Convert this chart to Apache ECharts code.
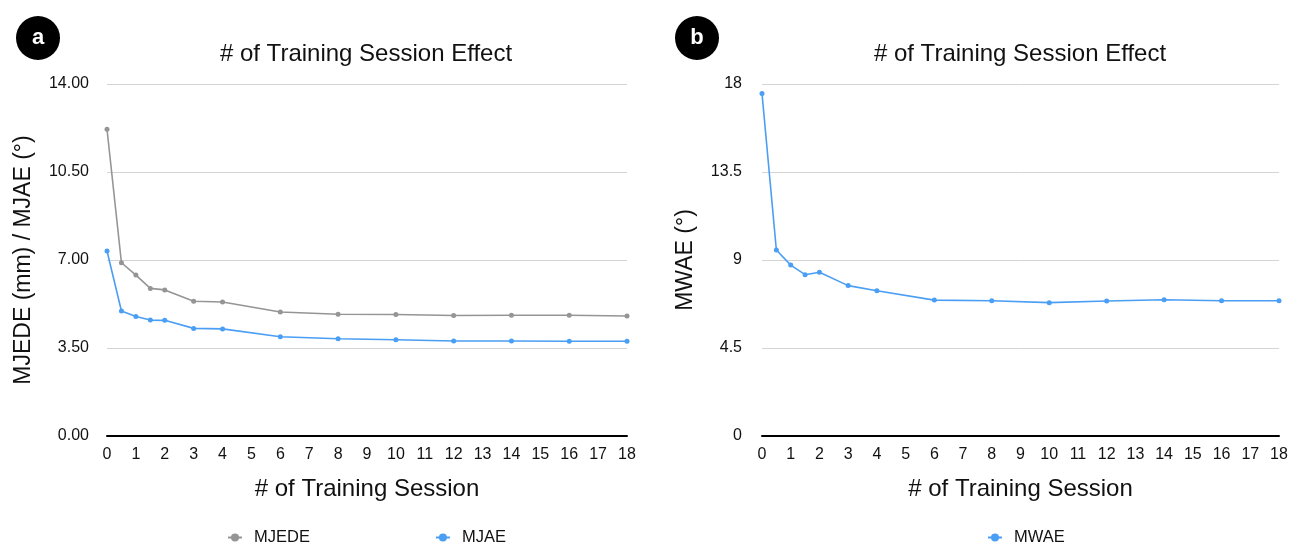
<!DOCTYPE html>
<html>
<head>
<meta charset="utf-8">
<script src="https://cdn.jsdelivr.net/npm/echarts@6/dist/echarts.min.js"></script>
<style>
  html, body { margin: 0; padding: 0; background: #fff; }
  #chart { width: 1297px; height: 550px; }
</style>
</head>
<body>
<div id="chart"></div>
<script>
// training sessions (x values)
const sessions = [0, 0.5, 1, 1.5, 2, 3, 4, 6, 8, 10, 12, 14, 16, 18];
// panel a
const mjede = [12.2, 6.89, 6.40, 5.87, 5.81, 5.36, 5.33, 4.93, 4.84, 4.83, 4.79, 4.80, 4.80, 4.77];
const mjae = [7.36, 4.97, 4.75, 4.61, 4.60, 4.28, 4.26, 3.95, 3.87, 3.83, 3.78, 3.78, 3.77, 3.77];
// panel b
const mwae = [17.52, 9.51, 8.74, 8.25, 8.37, 7.69, 7.43, 6.95, 6.92, 6.82, 6.90, 6.97, 6.92, 6.92];

const grey = "#959595";
const blue = "#4a9ef4";
const font = "'Liberation Sans', Arial, sans-serif";

const pairs = (ys) => sessions.map((x, i) => [x, ys[i]]);

const chart = echarts.init(document.getElementById("chart"));

const xAxisBase = (grid) => ({
  type: "value",
  gridIndex: grid,
  min: 0,
  max: 18,
  interval: 1,
  name: "# of Training Session",
  nameLocation: "middle",
  nameGap: 41,
  nameTextStyle: { fontSize: 24, color: "#111", fontFamily: font },
  axisLine: { show: true, lineStyle: { color: "#000", width: 2 } },
  axisTick: { show: false },
  splitLine: { show: false },
  axisLabel: { fontSize: 16, color: "#111", fontFamily: font, margin: 11 }
});

const yAxisBase = (grid, max, step, name, gap, margin, fmt) => ({
  type: "value",
  gridIndex: grid,
  min: 0,
  max: max,
  interval: step,
  name: name,
  nameLocation: "middle",
  nameGap: gap,
  nameTextStyle: { fontSize: 23, color: "#111", fontFamily: font },
  axisLine: { show: false },
  axisTick: { show: false },
  splitLine: { lineStyle: { color: "#d4d4d4", width: 1 } },
  axisLabel: { fontSize: 16, color: "#111", fontFamily: font, margin: margin, formatter: fmt }
});

const lineSeries = (name, ys, color, xi, yi) => ({
  name: name,
  type: "line",
  xAxisIndex: xi,
  yAxisIndex: yi,
  data: pairs(ys),
  symbol: "circle",
  symbolSize: 5,
  lineStyle: { color: color, width: 1.6 },
  itemStyle: { color: color },
  animation: false
});

const legendText = { fontSize: 16.5, color: "#111", fontFamily: font, padding: [0, 0, 0, 7] };

const option = {
  backgroundColor: "#fff",
  title: [
    { text: "# of Training Session Effect", left: 361, top: 37, textAlign: "center",
      textStyle: { fontSize: 24, fontWeight: "normal", color: "#111", fontFamily: font } },
    { text: "# of Training Session Effect", left: 1015, top: 37, textAlign: "center",
      textStyle: { fontSize: 24, fontWeight: "normal", color: "#111", fontFamily: font } }
  ],
  legend: [
    { data: ["MJEDE", "MJAE"], left: 222, top: 524, itemGap: 125, itemWidth: 14, itemHeight: 10,
      textStyle: legendText },
    { data: ["MWAE"], left: 982, top: 524, itemWidth: 14, itemHeight: 10,
      textStyle: legendText }
  ],
  grid: [
    { left: 107, right: 670, top: 84, bottom: 114 },
    { left: 762, right: 18, top: 84, bottom: 114 }
  ],
  xAxis: [xAxisBase(0), xAxisBase(1)],
  yAxis: [
    yAxisBase(0, 14, 3.5, "MJEDE (mm) / MJAE (°)", 72, 18, (v) => v.toFixed(2)),
    yAxisBase(1, 18, 4.5, "MWAE (°)", 65, 20, (v) => String(v))
  ],
  graphic: [
    { type: "circle", shape: { cx: 38, cy: 38, r: 22 }, style: { fill: "#000" } },
    { type: "text", x: 38, y: 38, style: { text: "a", fill: "#fff", font: "bold 22px " + font, textAlign: "center", textVerticalAlign: "middle" } },
    { type: "circle", shape: { cx: 697, cy: 38, r: 22 }, style: { fill: "#000" } },
    { type: "text", x: 697, y: 38, style: { text: "b", fill: "#fff", font: "bold 22px " + font, textAlign: "center", textVerticalAlign: "middle" } }
  ],
  series: [
    lineSeries("MJEDE", mjede, grey, 0, 0),
    lineSeries("MJAE", mjae, blue, 0, 0),
    lineSeries("MWAE", mwae, blue, 1, 1)
  ]
};

chart.setOption(option);
</script>
</body>
</html>
